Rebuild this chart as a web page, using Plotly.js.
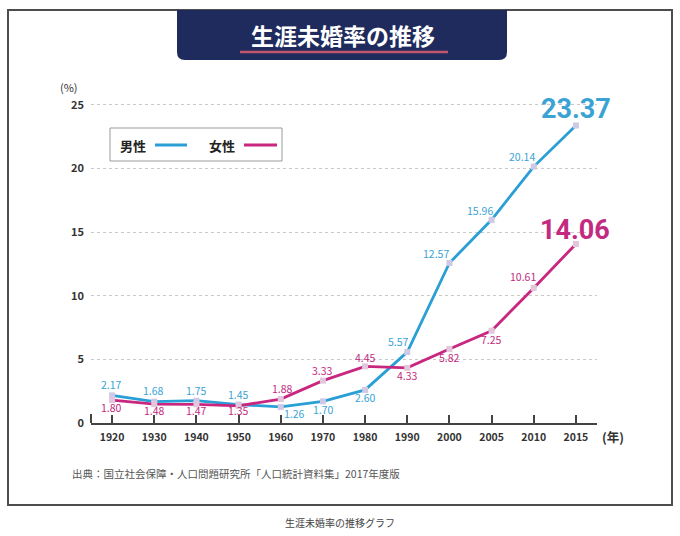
<!DOCTYPE html>
<html>
<head>
<meta charset="utf-8">
<script src="https://cdn.plot.ly/plotly-3.0.1.min.js"></script>
<style>
  html, body { margin: 0; padding: 0; background: #ffffff; }
  #chart { width: 680px; height: 536px; }
</style>
</head>
<body>
<div id="chart"></div>
<script>
// ---- data ----
const years = ['1920','1930','1940','1950','1960','1970','1980','1990','2000','2005','2010','2015'];
const male = [2.17, 1.68, 1.75, 1.45, 1.26, 1.70, 2.60, 5.57, 12.57, 15.96, 20.14, 23.37];
const female = [1.80, 1.48, 1.47, 1.35, 1.88, 3.33, 4.45, 4.33, 5.82, 7.25, 10.61, 14.06];
const yTicks = [0, 5, 10, 15, 20, 25];
const seriesNames = ['男性', '女性'];
const titleText = '生涯未婚率の推移';
const sourceText = '出典：国立社会保障・人口問題研究所「人口統計資料集」2017年度版';
const captionText = '生涯未婚率の推移グラフ';

// ---- style ----
const BLUE = '#2a9fd6';
const BLUE_TXT = '#3aa3d4';
const MAG = '#c8267f';
const MAG_TXT = '#c22a80';
const NAVY = '#1f2b5c';
const FONT = '"Noto Sans CJK JP", "Noto Sans", sans-serif';

// label offsets [xshift, yshift] (pixels)
const maleShift = [[-1,11],[-1,11],[0,10],[0,10],[14,-7],[1,-8],[0,-8],[-9,11],[-13,9],[-12,9],[-12,10],[0,16]];
const femaleShift = [[-1,-7],[0,-6],[0,-6],[0,-5],[2,11],[0,10],[0,9],[0,-8],[0,-9],[0,-9],[-11,11],[-1,14]];

// plot-area geometry (pixels) for decorative paper-referenced items
const L = 91, R = 597, T = 92, B = 423;
const px = x => (x - L) / (R - L);
const py = y => (B - y) / (B - T);

const traces = [
  { x: years, y: male, type: 'scatter', mode: 'lines+markers', name: seriesNames[0],
    line: { color: BLUE, width: 2.8 },
    marker: { symbol: 'square', size: 6, color: '#cfc9e6' }, hoverinfo: 'x+y' },
  { x: years, y: female, type: 'scatter', mode: 'lines+markers', name: seriesNames[1],
    line: { color: MAG, width: 2.8 },
    marker: { symbol: 'square', size: 6, color: '#e2c6dc' }, hoverinfo: 'x+y' }
];

const annotations = [];
const last = years.length - 1;
function addLabels(vals, shifts, color) {
  vals.forEach((v, i) => {
    const big = i === last;
    annotations.push({
      x: i, y: v, xref: 'x', yref: 'y', text: v.toFixed(2), showarrow: false,
      xanchor: 'center', yanchor: 'middle',
      xshift: shifts[i][0], yshift: shifts[i][1],
      font: { family: big ? 'Roboto, sans-serif' : FONT, size: big ? 27 : 10.5, color: color,
              weight: big ? 'bold' : 'normal' }
    });
  });
}
addLabels(male, maleShift, BLUE_TXT);
addLabels(female, femaleShift, MAG_TXT);

function deco(x, y, text, font, xanchor) {
  annotations.push({ xref: 'paper', yref: 'paper', x: px(x), y: py(y), text: text, showarrow: false,
    xanchor: xanchor || 'center', yanchor: 'middle', font: font });
}
deco(343, 35, titleText, { family: FONT, size: 23, color: '#ffffff', weight: 'bold' });
deco(69, 87, '(%)', { family: FONT, size: 11, color: '#333333' });
deco(613, 436, '(年)', { family: FONT, size: 12.5, color: '#333333', weight: 'bold' });
deco(70, 473, sourceText, { family: FONT, size: 10.5, color: '#555555' }, 'left');
deco(340, 522, captionText, { family: FONT, size: 10, color: '#444444' });
deco(133, 145, seriesNames[0], { family: FONT, size: 13, color: '#222222', weight: 'bold' });
deco(222, 145, seriesNames[1], { family: FONT, size: 13, color: '#222222', weight: 'bold' });

// rounded-bottom title box path
const bx0 = px(177), bx1 = px(507), by0 = py(10), by1 = py(60);
const rx = 8 / (R - L), ry = 8 / (B - T);
const boxPath = `M ${bx0} ${by0} L ${bx1} ${by0} L ${bx1} ${by1 + ry} Q ${bx1} ${by1} ${bx1 - rx} ${by1} ` +
                `L ${bx0 + rx} ${by1} Q ${bx0} ${by1} ${bx0} ${by1 + ry} Z`;

const shapes = [
  { type: 'rect', xref: 'paper', yref: 'paper', x0: px(8), x1: px(672), y0: py(10), y1: py(505),
    line: { color: '#4d4d4d', width: 2 }, fillcolor: 'rgba(0,0,0,0)', layer: 'below' },
  { type: 'path', xref: 'paper', yref: 'paper', path: boxPath, fillcolor: NAVY, line: { width: 0 } },
  { type: 'line', xref: 'paper', yref: 'paper', x0: px(240), x1: px(448), y0: py(52), y1: py(52),
    line: { color: '#c0566b', width: 2.5 } },
  { type: 'rect', xref: 'paper', yref: 'paper', x0: px(110), x1: px(282), y0: py(128), y1: py(161),
    line: { color: '#9a9a9a', width: 1 }, fillcolor: '#ffffff' },
  { type: 'line', xref: 'paper', yref: 'paper', x0: px(155), x1: px(187), y0: py(145), y1: py(145),
    line: { color: BLUE, width: 3 } },
  { type: 'line', xref: 'paper', yref: 'paper', x0: px(244), x1: px(277), y0: py(145), y1: py(145),
    line: { color: MAG, width: 3 } },
  { type: 'line', xref: 'paper', yref: 'paper', x0: 0, x1: 0, y0: 0, y1: py(414),
    line: { color: '#444444', width: 2 } }
];

const layout = {
  width: 680, height: 536,
  margin: { l: L, r: 680 - R, t: T, b: 536 - B, pad: 0 },
  paper_bgcolor: '#ffffff', plot_bgcolor: '#ffffff',
  showlegend: false,
  font: { family: FONT, color: '#333333' },
  xaxis: {
    type: 'category', range: [-0.5, 11.5], fixedrange: true,
    showline: true, linecolor: '#444444', linewidth: 2,
    ticks: 'inside', ticklen: 8, tickwidth: 2, tickcolor: '#444444',
    showgrid: false, zeroline: false,
    tickfont: { family: FONT, size: 10.5, color: '#333333', weight: 'bold' },
    ticklabelstandoff: 3
  },
  yaxis: {
    range: [0, 26], fixedrange: true, tickvals: yTicks, ticktext: yTicks.map(String),
    showline: false, zeroline: false, ticks: '',
    showgrid: true, gridcolor: '#c9c9c9', gridwidth: 1, griddash: 'dot',
    tickfont: { family: FONT, size: 11, color: '#333333', weight: 'bold' },
    ticklabelstandoff: 6
  },
  shapes: shapes,
  annotations: annotations
};

Plotly.newPlot('chart', traces, layout, { displayModeBar: false, staticPlot: true });
</script>
</body>
</html>
